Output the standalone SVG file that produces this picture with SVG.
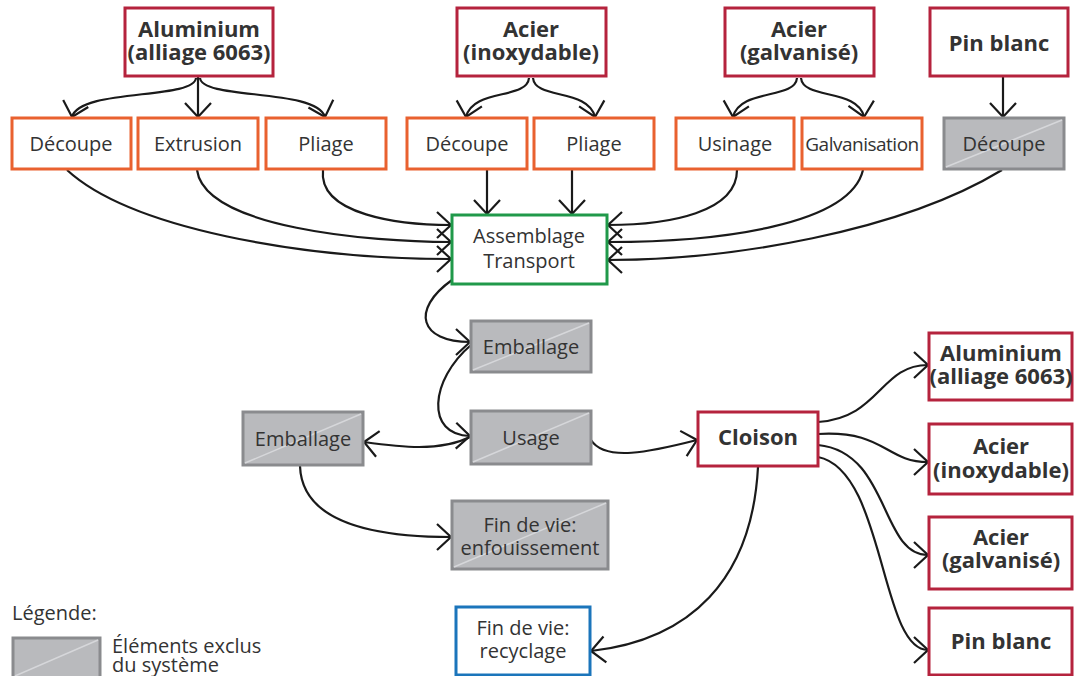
<svg xmlns="http://www.w3.org/2000/svg" width="1074" height="676" viewBox="0 0 1074 676">
<style>
  .red{fill:#fff;stroke:#b5233d;stroke-width:3}
  .org{fill:#fff;stroke:#e9612f;stroke-width:3}
  .grn{fill:#fff;stroke:#20994a;stroke-width:3}
  .blu{fill:#fff;stroke:#1b75bb;stroke-width:3}
  .gry{fill:#b9babd;stroke:#8a8b8e;stroke-width:3}
  .diag{stroke:#d6d7da;stroke-width:1.5;fill:none}
  text{font-family:"Open Sans","Noto Sans","Liberation Sans",sans-serif;fill:#333;text-anchor:middle;font-size:20px}
  .b{font-weight:bold;font-size:22px}
  .l{text-anchor:start}
  .edge{fill:none;stroke:#1a1a1a;stroke-width:2.2;marker-end:url(#arr)}
</style>
<defs>
  <marker id="arr" viewBox="-16 -15 18 30" refX="0" refY="0" markerWidth="18" markerHeight="30" markerUnits="userSpaceOnUse" orient="auto">
    <path d="M-14,-13 L0,0 L-14,13" fill="none" stroke="#1a1a1a" stroke-width="2.2"/>
  </marker>
</defs>
<rect width="1074" height="676" fill="#fff"/>

<g id="connectors">
  <path class="edge" d="M196,78 C194,100 80,88 72,117"/>
  <path class="edge" d="M198,77 L198,117"/>
  <path class="edge" d="M200,78 C202,100 316,88 325,117"/>
  <path class="edge" d="M529,78 C527,100 473,88 466,117"/>
  <path class="edge" d="M533,78 C535,100 588,88 595,117"/>
  <path class="edge" d="M797,78 C795,100 740,88 733,117"/>
  <path class="edge" d="M801,78 C803,100 858,88 864,117"/>
  <path class="edge" d="M1003,77 L1003,117"/>
  <path class="edge" d="M323,170 C318,215 400,225 451,225"/>
  <path class="edge" d="M197,170 C205,228 370,242 451,242"/>
  <path class="edge" d="M67,170 C130,228 300,259 451,259"/>
  <path class="edge" d="M487,170 L487,214"/>
  <path class="edge" d="M572,170 L572,214"/>
  <path class="edge" d="M737,170 C737,212 670,225 608,225"/>
  <path class="edge" d="M863,170 C850,225 720,242 608,242"/>
  <path class="edge" d="M1002,170 C900,232 730,260 608,260"/>
  <path class="edge" d="M452,280 C410,310 420,342 470,342"/>
  <path class="edge" d="M471,345 C430,380 425,435 470,436"/>
  <path class="edge" d="M470,437 C440,452 400,447 364,442"/>
  <path class="edge" d="M300,466 C302,525 380,537 451,537"/>
  <path class="edge" d="M591,440 C605,462 650,452 697,440"/>
  <path class="edge" d="M758,467 C752,580 690,640 591,651"/>
  <path class="edge" d="M818,422 C880,418 880,365 928,365"/>
  <path class="edge" d="M818,434 C885,430 885,462 928,462"/>
  <path class="edge" d="M818,445 C890,452 880,555 928,555"/>
  <path class="edge" d="M818,457 C885,470 880,650 928,650"/>
</g>

<g id="alu_src"><rect class="red" x="125" y="8" width="148" height="68"/><text class="b" x="199" y="37">Aluminium</text><text class="b" x="199" y="60">(alliage 6063)</text></g>
<g id="inox_src"><rect class="red" x="457" y="8" width="149" height="68"/><text class="b" x="531" y="37">Acier</text><text class="b" x="531" y="60">(inoxydable)</text></g>
<g id="galv_src"><rect class="red" x="725" y="8" width="149" height="68"/><text class="b" x="799" y="37">Acier</text><text class="b" x="799" y="60">(galvanisé)</text></g>
<g id="pin_src"><rect class="red" x="930" y="8" width="138" height="68"/><text class="b" x="999" y="51">Pin blanc</text></g>

<g id="decoupe_alu"><rect class="org" x="12" y="118" width="119" height="51"/><text x="71" y="151">Découpe</text></g>
<g id="extrusion"><rect class="org" x="138" y="118" width="120" height="51"/><text x="198" y="151">Extrusion</text></g>
<g id="pliage_alu"><rect class="org" x="266" y="118" width="120" height="51"/><text x="326" y="151">Pliage</text></g>
<g id="decoupe_inox"><rect class="org" x="407" y="118" width="120" height="51"/><text x="467" y="151">Découpe</text></g>
<g id="pliage_inox"><rect class="org" x="534" y="118" width="120" height="51"/><text x="594" y="151">Pliage</text></g>
<g id="usinage"><rect class="org" x="676" y="118" width="118" height="51"/><text x="735" y="151">Usinage</text></g>
<g id="galvanisation"><rect class="org" x="802" y="118" width="120" height="51"/><text x="862" y="151" style="font-size:19px;letter-spacing:-0.5px">Galvanisation</text></g>
<g id="decoupe_pin"><rect class="gry" x="944" y="118" width="120" height="51"/><line class="diag" x1="946" y1="167" x2="1062" y2="120"/><text x="1004" y="151">Découpe</text></g>

<g id="assemblage"><rect class="grn" x="452" y="215" width="155" height="69"/><text x="529" y="243">Assemblage</text><text x="529" y="268">Transport</text></g>

<g id="emballage_c"><rect class="gry" x="471" y="321" width="120" height="51"/><line class="diag" x1="473" y1="370" x2="589" y2="323"/><text x="531" y="354">Emballage</text></g>
<g id="usage"><rect class="gry" x="471" y="411" width="120" height="53"/><line class="diag" x1="473" y1="462" x2="589" y2="413"/><text x="531" y="445">Usage</text></g>
<g id="emballage_l"><rect class="gry" x="243" y="412" width="120" height="53"/><line class="diag" x1="245" y1="463" x2="361" y2="414"/><text x="303" y="446">Emballage</text></g>
<g id="enfouissement"><rect class="gry" x="452" y="501" width="156" height="68"/><line class="diag" x1="454" y1="567" x2="606" y2="503"/><text x="530" y="532">Fin de vie:</text><text x="530" y="555">enfouissement</text></g>
<g id="recyclage"><rect class="blu" x="456" y="607" width="134" height="68"/><text x="523" y="635">Fin de vie:</text><text x="523" y="658">recyclage</text></g>

<g id="cloison"><rect class="red" x="698" y="412" width="120" height="54"/><text class="b" x="758" y="445">Cloison</text></g>

<g id="alu_out"><rect class="red" x="929" y="333" width="143" height="67"/><text class="b" x="1001" y="361">Aluminium</text><text class="b" x="1001" y="384">(alliage 6063)</text></g>
<g id="inox_out"><rect class="red" x="929" y="424" width="143" height="70"/><text class="b" x="1001" y="454">Acier</text><text class="b" x="1001" y="478">(inoxydable)</text></g>
<g id="galv_out"><rect class="red" x="929" y="517" width="143" height="72"/><text class="b" x="1001" y="545">Acier</text><text class="b" x="1001" y="568">(galvanisé)</text></g>
<g id="pin_out"><rect class="red" x="929" y="608" width="143" height="67"/><text class="b" x="1001" y="649">Pin blanc</text></g>

<g id="legend">
  <text class="l" x="12" y="620">Légende:</text>
  <rect class="gry" x="13" y="638" width="87" height="40"/>
  <line class="diag" x1="15" y1="676" x2="98" y2="640"/>
  <text class="l" x="112" y="653">Éléments exclus</text>
  <text class="l" x="112" y="672">du système</text>
</g>
</svg>
